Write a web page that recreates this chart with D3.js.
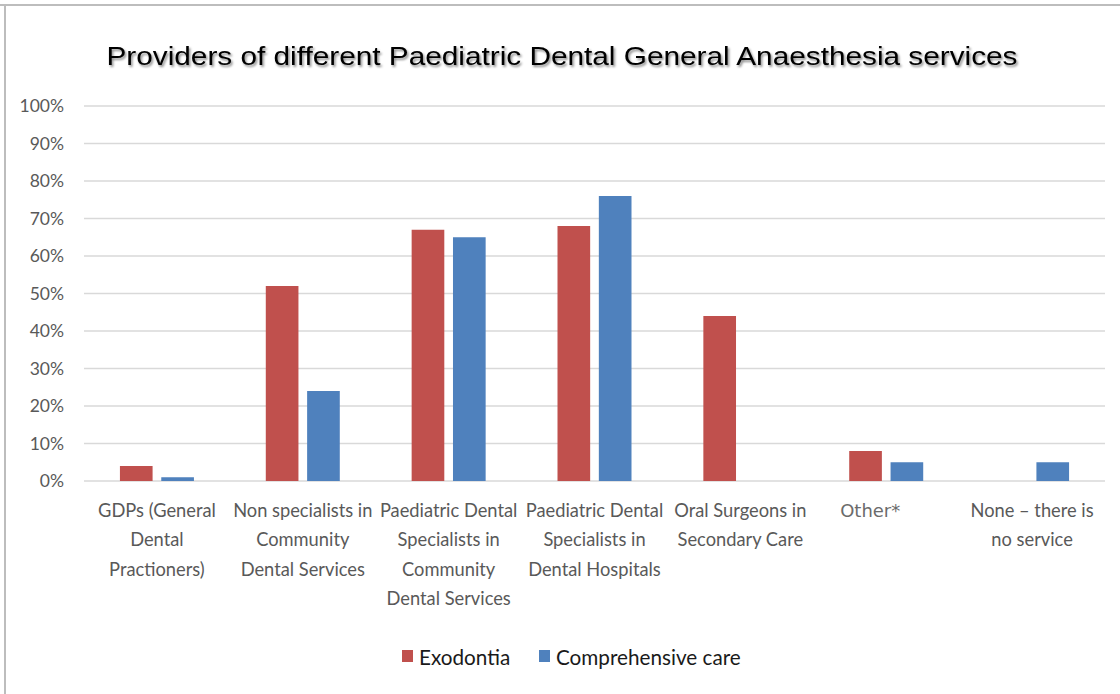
<!DOCTYPE html>
<html>
<head>
<meta charset="utf-8">
<script src="https://cdn.jsdelivr.net/npm/d3@7"></script>
<style>
  html, body { margin: 0; padding: 0; background: #fff; }
  svg { display: block; }
</style>
</head>
<body>
<svg id="chart" width="1120" height="694"></svg>
<script>
// Providers of paediatric dental GA services (share of respondents)
const categories = [
  "GDPs (General Dental Practioners)",
  "Non specialists in Community Dental Services",
  "Paediatric Dental Specialists in Community Dental Services",
  "Paediatric Dental Specialists in Dental Hospitals",
  "Oral Surgeons in Secondary Care",
  "Other*",
  "None \u2013 there is no service"
];
const categoryLines = [
  ["GDPs (General", "Dental", "Practioners)"],
  ["Non specialists in", "Community", "Dental Services"],
  ["Paediatric Dental", "Specialists in", "Community", "Dental Services"],
  ["Paediatric Dental", "Specialists in", "Dental Hospitals"],
  ["Oral Surgeons in", "Secondary Care"],
  ["Other*"],
  ["None \u2013 there is", "no service"]
];
const seriesNames = ["Exodontia", "Comprehensive care"];
const exodontia = [4, 52, 67, 68, 44, 8, 0];
const comprehensiveCare = [1, 24, 65, 76, 0, 5, 5];
const yTicks = [0, 10, 20, 30, 40, 50, 60, 70, 80, 90, 100];
const chartTitle = "Providers of different Paediatric Dental General Anaesthesia services";

const colors = { "Exodontia": "#C0504D", "Comprehensive care": "#4F81BD" };
const seriesValues = { "Exodontia": exodontia, "Comprehensive care": comprehensiveCare };

const svg = d3.select("#chart");
const W = 1120, H = 694;
const plot = { left: 84, right: 1105, top: 106, bottom: 481 };

// frame edges (top and left)
svg.append("line").attr("x1", 0).attr("x2", W).attr("y1", 5).attr("y2", 5)
  .attr("stroke", "#bdbdbd").attr("stroke-width", 2);
svg.append("line").attr("x1", 5).attr("x2", 5).attr("y1", 4).attr("y2", H)
  .attr("stroke", "#bdbdbd").attr("stroke-width", 2);

// title with a soft drop shadow
const defs = svg.append("defs");
const shadow = defs.append("filter").attr("id", "titleShadow")
  .attr("x", "-5%").attr("y", "-40%").attr("width", "110%").attr("height", "180%");
shadow.append("feDropShadow").attr("dx", 1.5).attr("dy", 2).attr("stdDeviation", 1.2)
  .attr("flood-color", "#000").attr("flood-opacity", 0.45);

svg.append("text")
  .attr("x", 562).attr("y", 65)
  .attr("text-anchor", "middle")
  .attr("font-family", "'Liberation Sans', Arial, sans-serif")
  .attr("font-size", 26)
  .attr("fill", "#000")
  .attr("textLength", 911)
  .attr("lengthAdjust", "spacingAndGlyphs")
  .attr("filter", "url(#titleShadow)")
  .text(chartTitle);

// scales
const y = d3.scaleLinear().domain([0, 100]).range([plot.bottom, plot.top]);
const x0 = d3.scaleBand().domain(categories).range([plot.left, plot.right]).padding(0);
const pairWidth = 74;
const x1 = d3.scaleBand().domain(seriesNames).range([0, pairWidth]).paddingInner(0.21);

// gridlines
svg.append("g")
  .selectAll("line")
  .data(yTicks)
  .join("line")
  .attr("x1", plot.left).attr("x2", plot.right)
  .attr("y1", d => y(d)).attr("y2", d => y(d))
  .attr("stroke", "#d9d9d9").attr("stroke-width", 1.5);

// y axis labels
const yAxis = d3.axisLeft(y).tickValues(yTicks).tickFormat(d => d + "%").tickSize(0).tickPadding(20);
const yg = svg.append("g").attr("transform", `translate(${plot.left},0)`).call(yAxis);
yg.select(".domain").remove();
yg.selectAll("text")
  .attr("font-family", "Lato, 'Open Sans', sans-serif")
  .attr("font-size", 17.5)
  .attr("fill", "#595959");

// bars
const groups = svg.append("g")
  .selectAll("g")
  .data(categories)
  .join("g")
  .attr("transform", d => `translate(${x0(d) + (x0.bandwidth() - pairWidth) / 2},0)`);

groups.selectAll("rect")
  .data((c, i) => seriesNames.map(s => ({ s, v: seriesValues[s][i] })))
  .join("rect")
  .filter(d => d.v > 0)
  .attr("x", d => x1(d.s))
  .attr("width", x1.bandwidth())
  .attr("y", d => y(d.v))
  .attr("height", d => y(0) - y(d.v))
  .attr("fill", d => colors[d.s]);

// category labels
const labelG = svg.append("g");
categories.forEach((c, i) => {
  const cx = x0(c) + x0.bandwidth() / 2;
  const special = c === "Other*";
  const t = labelG.append("text")
    .attr("text-anchor", "middle")
    .attr("font-family", special ? "'DejaVu Sans', sans-serif" : "Lato, 'Open Sans', sans-serif")
    .attr("font-size", special ? 18 : 18.3)
    .attr("fill", special ? "#6b6b6b" : "#595959");
  categoryLines[i].forEach((line, k) => {
    t.append("tspan")
      .attr("x", special ? cx - 16 : cx)
      .attr("y", 517 + k * 29.3)
      .text(line);
  });
});

// legend
const legend = svg.append("g").attr("transform", "translate(402,650)");
const legendOffsets = [0, 137];
seriesNames.forEach((s, i) => {
  const g = legend.append("g").attr("transform", `translate(${legendOffsets[i]},0)`);
  g.append("rect").attr("width", 11).attr("height", 12).attr("fill", colors[s]);
  g.append("text").attr("x", 17).attr("y", 15)
    .attr("font-family", "Lato, 'Open Sans', sans-serif")
    .attr("font-size", 20.7)
    .attr("fill", "#1a1a1a")
    .text(s);
});
</script>
</body>
</html>
